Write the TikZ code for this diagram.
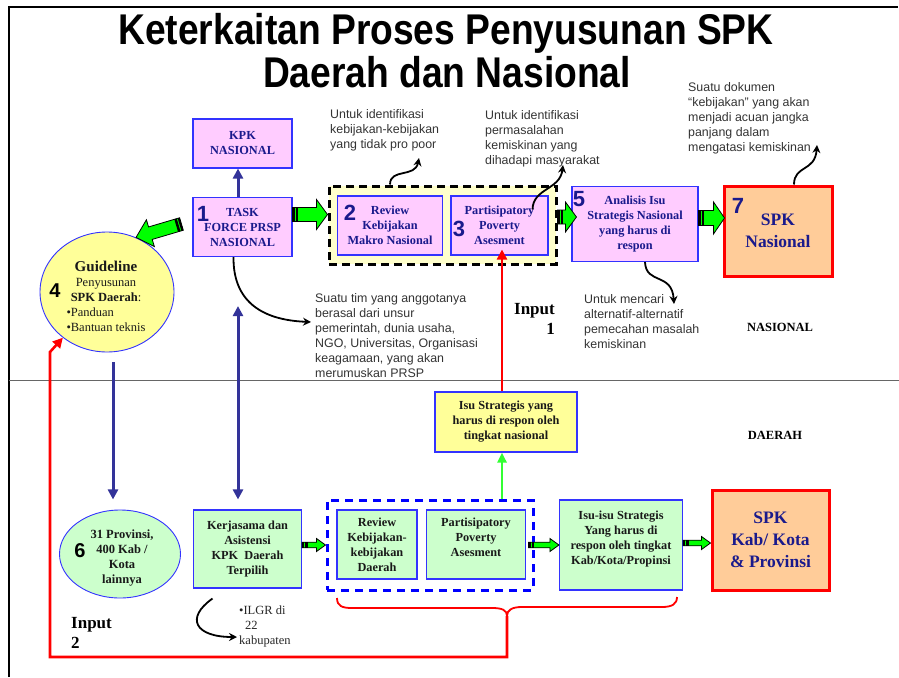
\documentclass[tikz,border=0pt]{standalone}
\usepackage{fontspec}
\usepackage{graphicx}
\setmainfont{Liberation Serif}
\newfontfamily\sansfam{Liberation Sans}
\usetikzlibrary{calc,arrows.meta,shapes.geometric}

\definecolor{lilac}{HTML}{FFCCFF}
\definecolor{edgeblue}{HTML}{3333FF}
\definecolor{navytxt}{HTML}{1A1A8C}
\definecolor{arrnavy}{HTML}{333399}
\definecolor{blockgreen}{HTML}{00FF00}
\definecolor{thingreen}{HTML}{33FF33}
\definecolor{mint}{HTML}{CCFFCC}
\definecolor{lemon}{HTML}{FFFF99}
\definecolor{cream}{HTML}{FFFFCC}
\definecolor{peach}{HTML}{FFCC99}
\definecolor{notegray}{HTML}{333333}
\definecolor{sepgray}{HTML}{666666}

\newcommand\boxfont{\fontsize{12.3}{15}\selectfont\bfseries}

\tikzset{
  pinkbox/.style={draw=edgeblue, fill=lilac, line width=1.1pt, align=center,
    text=navytxt, font=\boxfont, inner sep=1pt},
  mintbox/.style={draw=edgeblue, fill=mint, line width=1.1pt, align=center,
    text=black!90, font=\boxfont, inner sep=1pt},
  yellowbox/.style={draw=edgeblue, fill=lemon, line width=1.1pt, align=center,
    text=black!90, font=\boxfont, inner sep=1pt},
  spkbox/.style={draw=red, fill=peach, line width=3pt, align=center,
    text=navytxt, font=\fontsize{17.5}{22}\selectfont\bfseries},
  grpyellow/.style={draw=black, fill=cream, line width=3pt, dash pattern=on 8pt off 5pt},
  grpblue/.style={draw=blue, line width=3pt, dash pattern=on 8pt off 6pt},
  oval/.style={ellipse, draw=edgeblue, line width=0.9pt, inner sep=0pt},
  ovaltext/.style={align=center, inner sep=0pt, text=black!90},
  bignum/.style={font=\sansfam\bfseries\fontsize{22}{22}\selectfont, text=navytxt, inner sep=0pt},
  % multi-line notes are placed by the baseline of their last line
  note/.style={font=\sansfam\fontsize{12.4}{15}\selectfont, text=notegray, align=left,
    inner sep=0pt, anchor=base west},
  pointer/.style={draw=black, line width=1.8pt, -{Stealth[length=8pt,width=8pt]}},
  navyarr/.style={draw=arrnavy, line width=3pt, -{Triangle[length=10pt,width=10pt]}},
  redarr/.style={draw=red, line width=2.6pt, -{Triangle[length=10pt,width=10pt]}},
  greenarr/.style={draw=thingreen, line width=2.6pt, -{Triangle[length=10pt,width=9pt]}},
  blockarr/.style={fill=blockgreen, draw=black, line width=0.8pt, line join=miter},
  redline/.style={draw=red, line width=1.8pt},
  tag/.style={font=\bfseries\fontsize{12.5}{15}\selectfont, inner sep=0pt},
  inputlbl/.style={font=\bfseries\fontsize{17}{20}\selectfont, inner sep=0pt},
  titletext/.style={font=\sansfam\bfseries\fontsize{43}{45}\selectfont, inner sep=0pt},
}

% striped block arrow from #1 to #2: shaft half width #3, head half width #4, head length #5
\newcommand\blockarrow[5]{%
  \coordinate (ba-h) at ($(#2)!#5!(#1)$);
  \coordinate (ba-s1) at ($(#1)!2pt!(#2)$);
  \coordinate (ba-s2) at ($(#1)!3pt!(#2)$);
  \coordinate (ba-s3) at ($(#1)!5.5pt!(#2)$);
  \filldraw[blockarr] ($(#1)!#3!90:(#2)$) -- ($(ba-h)!#3!90:(#2)$) -- ($(ba-h)!#4!90:(#2)$)
    -- (#2) -- ($(ba-h)!#4!-90:(#2)$) -- ($(ba-h)!#3!-90:(#2)$) -- ($(#1)!#3!-90:(#2)$) -- cycle;
  \fill[black] ($(#1)!#3!90:(#2)$) -- ($(ba-s1)!#3!90:(#2)$) -- ($(ba-s1)!#3!-90:(#2)$)
    -- ($(#1)!#3!-90:(#2)$) -- cycle;
  \fill[black] ($(ba-s2)!#3!90:(#2)$) -- ($(ba-s3)!#3!90:(#2)$) -- ($(ba-s3)!#3!-90:(#2)$)
    -- ($(ba-s2)!#3!-90:(#2)$) -- cycle;
}

\begin{document}
\begin{tikzpicture}[x=1pt,y=-1pt]
\useasboundingbox (0,0) rectangle (899,677);

% frame and level separator
\draw[line width=2.2pt] (8.7,677) -- (8.7,7) -- (898,7);
\draw[sepgray, line width=1.3pt] (8.7,380.5) -- (899,380.5);

% title
\node[titletext, anchor=base] (title1) at (446,45) {\scalebox{0.865}[1]{Keterkaitan Proses Penyusunan SPK}};
\node[titletext, anchor=base] (title2) at (447,88) {\scalebox{0.865}[1]{Daerah dan Nasional}};

% group frames
\node[grpyellow, minimum width=227pt, minimum height=78pt] (grpn) at (442.5,225) {};
\node[grpblue, minimum width=206pt, minimum height=90pt] (grpd) at (430,545) {};

% national level
\node[pinkbox, minimum width=99pt, minimum height=49pt] (kpk) at (242.5,143.5) {KPK\\NASIONAL};
\node[pinkbox, minimum width=99pt, minimum height=59pt] (tf) at (242.5,227) {TASK\\FORCE PRSP\\NASIONAL};
\node[pinkbox, minimum width=105pt, minimum height=59pt] (rkm) at (390,225.5) {Review\\Kebijakan\\Makro Nasional};
\node[pinkbox, minimum width=97pt, minimum height=59pt] (ppan) at (499.5,225.5) {Partisipatory\\Poverty\\Asesment};
\node[pinkbox, minimum width=126pt, minimum height=75pt] (ais) at (635,224) {Analisis Isu\\Strategis Nasional\\yang harus di\\respon};
\node[spkbox, minimum width=108pt, minimum height=90pt] (spkn) at (778,231) {SPK\\Nasional};

% guideline oval
\node[oval, fill=lemon, minimum width=134pt, minimum height=120pt] (guide) at (107,292) {};
\node[ovaltext, font=\fontsize{12.5}{15}\selectfont] (guidetxt) at (106,296)
  {{\fontsize{15}{17}\selectfont\bfseries Guideline}\\Penyusunan\\\textbf{SPK Daerah}:\\
   \makebox[79pt][l]{•Panduan}\\\makebox[79pt][l]{•Bantuan teknis}};

% regional level
\node[yellowbox, minimum width=142pt, minimum height=60pt] (isun) at (506,422) {Isu Strategis yang\\harus di respon oleh\\tingkat nasional};
\node[oval, fill=mint, minimum width=121pt, minimum height=88pt] (prov) at (120,554) {};
\node[ovaltext, font=\fontsize{12.5}{14.7}\selectfont\bfseries] (provtxt) at (122,558) {31 Provinsi,\\400 Kab /\\Kota\\lainnya};
\node[mintbox, minimum width=108pt, minimum height=78pt] (kerj) at (247.5,549) {Kerjasama dan\\Asistensi\\KPK\ \ Daerah\\Terpilih};
\node[mintbox, minimum width=80pt, minimum height=69pt] (rkd) at (377,544.5) {Review\\Kebijakan-\\kebijakan\\Daerah};
\node[mintbox, minimum width=99pt, minimum height=69pt] (ppad) at (476,544.5) {Partisipatory\\Poverty\\Asesment\\~};
\node[mintbox, minimum width=123pt, minimum height=90pt] (isu2) at (621,545) {Isu-isu Strategis\\Yang harus di\\respon oleh tingkat\\Kab/Kota/Propinsi\\~};
\node[spkbox, minimum width=117pt, minimum height=100pt] (spkk) at (770.5,540) {SPK\\Kab/ Kota\\\& Provinsi};

% step numbers
\node[bignum] (n1) at (203,214) {1};
\node[bignum] (n2) at (350,213) {2};
\node[bignum] (n3) at (459,229) {3};
\node[bignum] (n5) at (579,199) {5};
\node[bignum] (n7) at (738,206) {7};
\node[bignum, text=black, font=\sansfam\bfseries\fontsize{20}{20}\selectfont] (n4) at (55,291) {4};
\node[bignum, text=black, font=\sansfam\bfseries\fontsize{20}{20}\selectfont] (n6) at (80,551) {6};

% level tags and inputs
\node[tag] (lvln) at (780,327) {NASIONAL};
\node[tag] (lvld) at (775,435) {DAERAH};
\node[inputlbl, align=right, anchor=base east] (in1) at (555,334) {Input\\1};
\node[inputlbl, align=left, anchor=base west] (in2) at (71,648) {Input\\2};

% notes
\node[note] (note1) at (330,148) {Untuk identifikasi\\kebijakan-kebijakan\\yang tidak pro poor};
\node[note] (note2) at (485,164) {Untuk identifikasi\\permasalahan\\kemiskinan yang\\dihadapi masyarakat};
\node[note] (note3) at (688,151) {Suatu dokumen\\“kebijakan” yang akan\\menjadi acuan jangka\\panjang dalam\\mengatasi kemiskinan};
\node[note] (note4) at (584,348) {Untuk mencari\\alternatif-alternatif\\pemecahan masalah\\kemiskinan};
\node[note] (note5) at (315,377) {Suatu tim yang anggotanya\\berasal dari unsur\\pemerintah, dunia usaha,\\NGO, Universitas, Organisasi\\keagamaan, yang akan\\merumuskan PRSP};
\node[font=\fontsize{12.5}{15}\selectfont, text=black!85, align=left, inner sep=0pt, anchor=base west]
  (ilgr) at (239,644) {•ILGR di\\\hspace{6pt}22\\kabupaten};

% green block arrows
\coordinate (ba1a) at ([yshift=12.5pt]tf.east);
\coordinate (ba1b) at (ba1a -| grpn.west);
\blockarrow{ba1a}{ba1b}{7pt}{15pt}{11pt}
\coordinate (ba2a) at ([yshift=8pt]grpn.east);
\coordinate (ba2b) at ([xshift=5pt]ba2a -| ais.west);
\blockarrow{ba2a}{ba2b}{7pt}{15pt}{11pt}
\coordinate (ba3a) at ([yshift=6pt]ais.east);
\coordinate (ba3b) at ([xshift=2pt]ba3a -| spkn.west);
\blockarrow{ba3a}{ba3b}{7.5pt}{16pt}{11pt}
\coordinate (ba4a) at ([xshift=-11pt,yshift=3pt]tf.west);
\coordinate (ba4b) at (guide.62);
\blockarrow{ba4a}{ba4b}{6.5pt}{14pt}{15pt}
\coordinate (ba5a) at ([yshift=4pt]kerj.east);
\coordinate (ba5b) at (ba5a -| grpd.west);
\blockarrow{ba5a}{ba5b}{2.8pt}{6.5pt}{9pt}
\coordinate (ba6a) at ([xshift=-6pt]grpd.east);
\coordinate (ba6b) at (ba6a -| isu2.west);
\blockarrow{ba6a}{ba6b}{2.8pt}{6.5pt}{9pt}
\coordinate (ba7a) at ([yshift=2pt]isu2.east);
\coordinate (ba7b) at (ba7a -| spkk.west);
\blockarrow{ba7a}{ba7b}{2.8pt}{6.5pt}{9pt}

% navy arrows
\draw[navyarr] ([xshift=-4.5pt]tf.north) -- ([xshift=-4.5pt]kpk.south);
\coordinate (dA) at ([xshift=-4.5pt,yshift=-49pt]tf.south);
\coordinate (dB) at ([xshift=-9.5pt,yshift=10pt]kerj.north);
\draw[navyarr, {Triangle[length=10pt,width=10pt]}-{Triangle[length=10pt,width=10pt]}] (dA) -- (dB);
\coordinate (gA) at ([xshift=6pt,yshift=-10pt]guide.south);
\draw[navyarr] (gA) -- (gA |- dB);

% input 1: regional issues fed to the national assessment
\coordinate (rA) at ([xshift=-4pt]isun.north);
\draw[redarr] (rA) -- ($(rA |- ppan.south)+(0,-6)$);
\draw[greenarr] (grpd.north -| rA) -- (isun.south -| rA);

% input 2: brace over regional steps back to the guideline
\coordinate (brtip) at (507,616);
\draw[redline] (337,598) .. controls (337,606) and (342,608) .. (352,608) -- (492,608)
  .. controls (502,608) and (507,610) .. (brtip);
\draw[redline] (brtip) .. controls (507,610) and (512,607) .. (522,607) -- (662,607)
  .. controls (672,607) and (677,604) .. (677,597);
\coordinate (r2a) at (507,657);
\coordinate (r2b) at (50,657);
\coordinate (r2c) at (50,352);
\draw[redarr, line join=miter] (brtip) -- (r2a) -- (r2b) -- (r2c) -- (guide.226);

% note pointers
\coordinate (p1) at (419,158);
\draw[pointer] (rkm.north |- grpn.north) .. controls (390,168) and (415,178) .. (p1);
\coordinate (p2) at (563,165);
\draw[pointer] ([xshift=33pt,yshift=16pt]ppan.center) .. controls (533,188) and (560,190) .. (p2);
\coordinate (p3) at (817,145);
\draw[pointer] ([xshift=16pt]spkn.north) .. controls (794,165) and (815,172) .. (p3);
\coordinate (p4) at (674,304);
\draw[pointer] ([xshift=10pt]ais.south) .. controls (646,285) and (672,272) .. (p4);
\coordinate (p5) at (311,322);
\draw[pointer] ([xshift=-9pt]tf.south) .. controls (233,300) and (260,320) .. (p5);
\coordinate (p6) at (237,637);
\draw[pointer] ([xshift=-35pt,yshift=-10pt]kerj.south) .. controls (185,618) and (195,637) .. (p6);
\end{tikzpicture}
\end{document}
